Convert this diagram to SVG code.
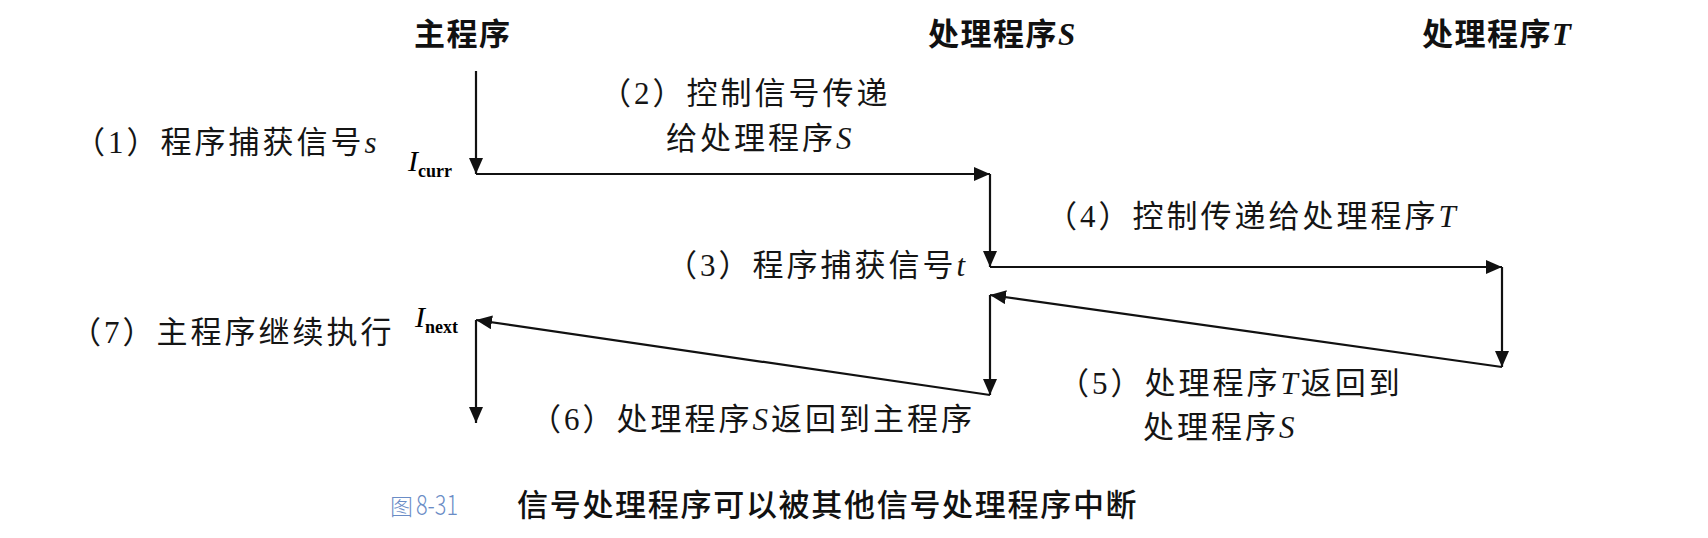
<svg xmlns="http://www.w3.org/2000/svg" width="1708" height="538" viewBox="0 0 1708 538">
<defs>
<style>
.title{font-family:"Noto Sans CJK SC","Noto Sans CJK JP",sans-serif;font-size:31px;font-weight:bold;fill:#111;letter-spacing:1.5px}
.lbl{font-family:"Noto Sans CJK SC","Noto Sans CJK JP",sans-serif;font-size:31px;fill:#151515;letter-spacing:3px}
.num{font-family:"Liberation Serif",serif}
.it{font-family:"Liberation Serif",serif;font-style:italic}
.sub{font-family:"Liberation Serif",serif;font-size:18px;font-weight:bold}
.cap{font-family:"Noto Sans CJK SC","Noto Sans CJK JP",sans-serif;font-size:31px;fill:#111;letter-spacing:1.7px;font-weight:500}
.capnum{font-family:"Noto Sans CJK SC","Noto Sans CJK JP",sans-serif;font-size:27px;fill:#6a8cc6;font-weight:300}
.ln{stroke:#111;stroke-width:2.2;fill:none;marker-end:url(#ah)}
</style>
<marker id="ah" markerUnits="userSpaceOnUse" markerWidth="16" markerHeight="14" refX="16" refY="7" orient="auto">
<path d="M0,0 L16,7 L0,14 z" fill="#111"/>
</marker>
</defs>
<rect width="1708" height="538" fill="#ffffff"/>

<g id="main-title"><text class="title" x="414" y="45">主程序</text></g>
<g id="handler-s-title"><text class="title" x="928" y="45">处理程序<tspan class="it">S</tspan></text></g>
<g id="handler-t-title"><text class="title" x="1422" y="45">处理程序<tspan class="it">T</tspan></text></g>

<g id="connectors">
<line class="ln" x1="476" y1="71" x2="476" y2="174"/>
<line class="ln" x1="476" y1="174" x2="990" y2="174"/>
<line class="ln" x1="990" y1="174" x2="990" y2="267"/>
<line class="ln" x1="990" y1="267" x2="1502" y2="267"/>
<line class="ln" x1="1502" y1="267" x2="1502" y2="367"/>
<line class="ln" x1="1502" y1="367" x2="990" y2="295"/>
<line class="ln" x1="990" y1="295" x2="990" y2="395"/>
<line class="ln" x1="990" y1="395" x2="476" y2="320"/>
<line class="ln" x1="476" y1="320" x2="476" y2="423"/>
</g>

<g id="label-1"><text class="lbl" x="74" y="153" letter-spacing="4.2">（<tspan class="num">1</tspan>）程序捕获信号<tspan class="it">s</tspan></text></g>
<g id="label-icurr"><text x="408" y="171"><tspan class="it" font-size="30">I</tspan><tspan class="sub" dy="6">curr</tspan></text></g>
<g id="label-2">
<text class="lbl" x="600" y="104" letter-spacing="3.8">（<tspan class="num">2</tspan>）控制信号传递</text>
<text class="lbl" x="666" y="149">给处理程序<tspan class="it">S</tspan></text>
</g>
<g id="label-3"><text class="lbl" x="666" y="276" letter-spacing="3.6">（<tspan class="num">3</tspan>）程序捕获信号<tspan class="it">t</tspan></text></g>
<g id="label-4"><text class="lbl" x="1046" y="227" letter-spacing="2.4">（<tspan class="num">4</tspan>）控制传递给处理程序<tspan class="it">T</tspan></text></g>
<g id="label-5">
<text class="lbl" x="1058" y="394">（<tspan class="num">5</tspan>）处理程序<tspan class="it">T</tspan>返回到</text>
<text class="lbl" x="1143" y="438">处理程序<tspan class="it">S</tspan></text>
</g>
<g id="label-6"><text class="lbl" x="530" y="430">（<tspan class="num">6</tspan>）处理程序<tspan class="it">S</tspan>返回到主程序</text></g>
<g id="label-7"><text class="lbl" x="70" y="343" letter-spacing="3.6">（<tspan class="num">7</tspan>）主程序继续执行</text></g>
<g id="label-inext"><text x="415" y="327"><tspan class="it" font-size="30">I</tspan><tspan class="sub" dy="6">next</tspan></text></g>

<g id="caption">
<text class="capnum" x="390" y="515"><tspan font-size="23">图</tspan> <tspan x="416" textLength="42" lengthAdjust="spacingAndGlyphs">8-31</tspan></text>
<text class="cap" x="517" y="516">信号处理程序可以被其他信号处理程序中断</text>
</g>
</svg>
